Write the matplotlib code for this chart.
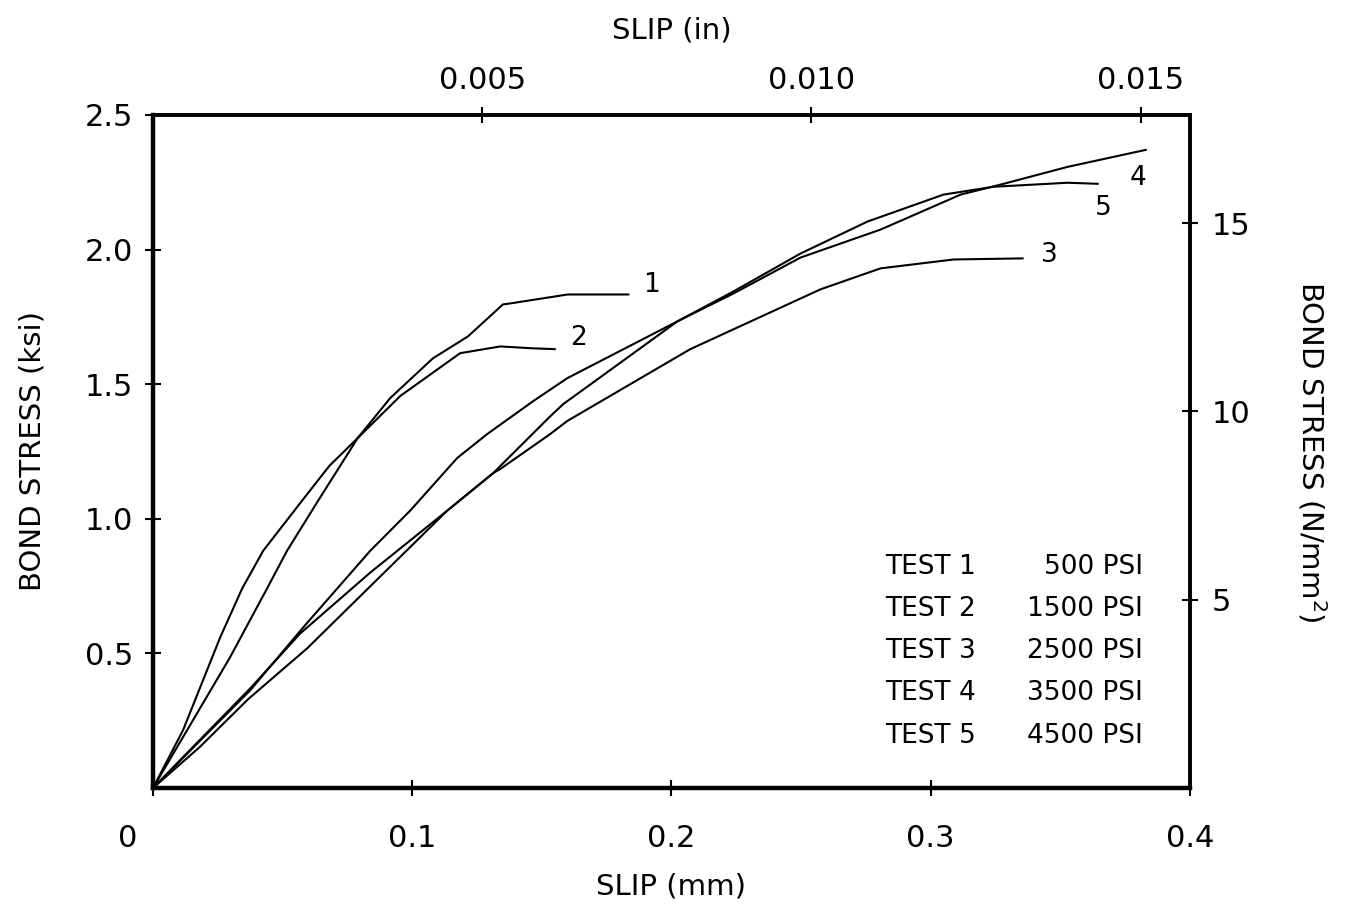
# Bond stress vs slip curves, tests 1-5
import numpy as np
import matplotlib
matplotlib.use("Agg")
import matplotlib.pyplot as plt
from matplotlib.transforms import ScaledTranslation

plt.rcParams['font.family'] = ['DejaVu Sans']

# slip (mm) and bond stress (ksi)
slip_1 = [0, 0.0116, 0.0259, 0.0344, 0.0425, 0.0575, 0.068, 0.079, 0.0915, 0.108,
          0.1185, 0.1216, 0.135, 0.138, 0.160, 0.1834]
stress_1 = [0, 0.215, 0.559, 0.741, 0.881, 1.067, 1.196, 1.30, 1.448, 1.596,
            1.659, 1.678, 1.796, 1.80, 1.833, 1.833]

slip_2 = [0, 0.0297, 0.044, 0.0517, 0.0637, 0.079, 0.0954, 0.1185, 0.134,
          0.1467, 0.155]
stress_2 = [0, 0.485, 0.741, 0.881, 1.067, 1.30, 1.456, 1.615, 1.64,
            1.633, 1.63]

slip_3 = [0, 0.018, 0.0367, 0.0595, 0.1135, 0.1313, 0.134, 0.1533, 0.1598, 0.2073,
          0.2575, 0.2807, 0.3089, 0.3355]
stress_3 = [0, 0.152, 0.33, 0.519, 1.03, 1.170, 1.185, 1.315, 1.363, 1.630,
            1.852, 1.930, 1.963, 1.967]

slip_4 = [0, 0.018, 0.0375, 0.0568, 0.0838, 0.1135, 0.1313, 0.1533, 0.1583, 0.2023,
          0.224, 0.2498, 0.2807, 0.3116, 0.327, 0.3529, 0.383]
stress_4 = [0, 0.178, 0.37, 0.574, 0.80, 1.03, 1.170, 1.381, 1.426, 1.733,
            1.837, 1.970, 2.074, 2.204, 2.241, 2.307, 2.370]

slip_5 = [0, 0.0375, 0.0579, 0.0838, 0.0992, 0.1174, 0.129, 0.1467, 0.1598, 0.2023,
          0.2239, 0.2498, 0.2757, 0.305, 0.3243, 0.3529, 0.3645]
stress_5 = [0, 0.363, 0.596, 0.881, 1.030, 1.226, 1.315, 1.437, 1.522, 1.733,
            1.844, 1.985, 2.104, 2.204, 2.233, 2.248, 2.244]

curves = [(slip_1, stress_1), (slip_2, stress_2), (slip_3, stress_3),
          (slip_4, stress_4), (slip_5, stress_5)]

# curve end labels
curve_labels = ["1", "2", "3", "4", "5"]
label_x = [0.189, 0.161, 0.3425, 0.377, 0.3635]
label_y = [1.87, 1.67, 1.978, 2.267, 2.156]

test_names = ["TEST 1", "TEST 2", "TEST 3", "TEST 4", "TEST 5"]
test_psi = ["500 PSI", "1500 PSI", "2500 PSI", "3500 PSI", "4500 PSI"]

x_ticks = [0, 0.1, 0.2, 0.3, 0.4]
x_ticklabels = ["0", "0.1", "0.2", "0.3", "0.4"]
y_ticks = [0.5, 1.0, 1.5, 2.0, 2.5]
y_ticklabels = ["0.5", "1.0", "1.5", "2.0", "2.5"]
in_ticks = [0.005, 0.010, 0.015]
in_ticklabels = ["0.005", "0.010", "0.015"]
nmm_ticks = [5, 10, 15]
nmm_ticklabels = ["5", "10", "15"]

MM_PER_IN = 25.4
NMM_PER_KSI = 7.15  # scale the plotter used on the right axis

fig = plt.figure(figsize=(13.66, 9.19), dpi=100)
ax = fig.add_axes([0.112, 0.1425, 0.759, 0.7325])

for xs, ys in curves:
    ax.plot(xs, ys, color='black', linewidth=1.5)

for lab, lx, ly in zip(curve_labels, label_x, label_y):
    ax.text(lx, ly, lab, fontsize=19, ha='left', va='center')

ax.set_xlim(0, 0.4)
ax.set_ylim(0, 2.5)
ax.set_xticks(x_ticks)
ax.set_xticklabels(x_ticklabels)
ax.set_yticks(y_ticks)
ax.set_yticklabels(y_ticklabels)
ax.tick_params(axis='x', direction='inout', length=12, width=1.5, pad=20, labelsize=22)
ax.tick_params(axis='y', direction='inout', length=12, width=1.5, pad=8, labelsize=22)
ax.tick_params(top=False, right=False)
# the zero label sits left of its tick in the original
zero_lab = ax.get_xticklabels()[0]
zero_lab.set_transform(zero_lab.get_transform() + ScaledTranslation(-25 / 100, 0, fig.dpi_scale_trans))

for side in ['bottom', 'left']:
    ax.spines[side].set_linewidth(3.2)
for side in ['top', 'right']:
    ax.spines[side].set_linewidth(2.6)

ax.set_xlabel("SLIP (mm)", fontsize=21, labelpad=14)
ax.set_ylabel("BOND STRESS (ksi)", fontsize=21, labelpad=28)

# top axis: slip in inches
top = ax.secondary_xaxis('top', functions=(lambda m: m / MM_PER_IN, lambda i: i * MM_PER_IN))
top.set_xticks(in_ticks)
top.set_xticklabels(in_ticklabels)
top.tick_params(direction='inout', length=12, width=1.5, pad=8, labelsize=22)
top.spines['top'].set_linewidth(2.6)
top.set_xlabel("SLIP (in)", fontsize=21, labelpad=20)

# right axis: bond stress in N/mm^2
right = ax.secondary_yaxis('right', functions=(lambda k: k * NMM_PER_KSI, lambda n: n / NMM_PER_KSI))
right.set_yticks(nmm_ticks)
right.set_yticklabels(nmm_ticklabels)
right.tick_params(direction='inout', length=12, width=1.5, pad=10, labelsize=22)
right.spines['right'].set_linewidth(2.6)
right.set_ylabel("BOND STRESS (N/mm$^{2}$)", fontsize=21, rotation=270, labelpad=56)

# test pressure table
row_y = [0.328, 0.266, 0.204, 0.141, 0.077]
for name, psi, ry in zip(test_names, test_psi, row_y):
    ax.text(0.706, ry, name, transform=ax.transAxes, fontsize=19, ha='left', va='center')
    ax.text(0.955, ry, psi, transform=ax.transAxes, fontsize=19, ha='right', va='center')

fig.savefig("out.png", dpi=100, facecolor='white')
